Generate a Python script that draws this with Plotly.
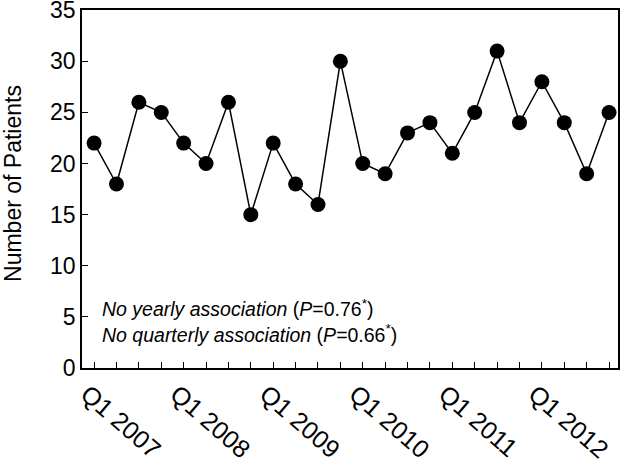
import plotly.graph_objects as go

years = [2007, 2008, 2009, 2010, 2011, 2012]
quarters = ["Q1", "Q2", "Q3", "Q4"]
periods = [f"{q} {y}" for y in years for q in quarters]
patients = [22, 18, 26, 25, 22, 20, 26, 15, 22, 18, 16, 30,
            20, 19, 23, 24, 21, 25, 31, 24, 28, 24, 19, 25]
tick_text = [p if p.startswith("Q1") else " " for p in periods]
y_ticks = [0, 5, 10, 15, 20, 25, 30, 35]
y_title = "Number of Patients"

FONT = "Liberation Sans, Arial, sans-serif"

fig = go.Figure()
fig.add_trace(go.Scatter(
    x=periods, y=patients, mode="lines+markers",
    line=dict(color="black", width=1.5),
    marker=dict(color="black", size=15),
    showlegend=False,
))

fig.update_xaxes(
    type="category", range=[-0.54, 23.4],
    tickmode="array", tickvals=periods, ticktext=tick_text,
    tickangle=41, ticks="inside", ticklen=6, tickwidth=1.2, tickcolor="black",
    showline=True, linecolor="black", linewidth=1.5, mirror=True,
    showgrid=False, zeroline=False, automargin=False,
    ticklabelshift=-7,
    tickfont=dict(family=FONT, size=25, color="black"),
)
fig.update_yaxes(
    range=[0, 35.02], tickvals=y_ticks,
    ticks="inside", ticklen=6, tickwidth=1.2, tickcolor="black",
    showline=True, linecolor="black", linewidth=1.5, mirror=True,
    showgrid=False, zeroline=False, automargin=False,
    ticklabeloverflow="allow",
    tickfont=dict(family=FONT, size=23, color="black"),
)

fig.add_annotation(
    xref="paper", yref="paper", x=-0.13, y=0.515, xanchor="center", yanchor="middle",
    textangle=-90, showarrow=False, text=y_title,
    font=dict(family=FONT, size=23, color="black"),
)

fig.add_annotation(
    xref="paper", yref="paper", x=0.033, y=0.13, xanchor="left", yanchor="middle",
    align="left", showarrow=False,
    text="<i>No yearly association</i> (<i>P</i>=0.76<sup>*</sup>)<br><i>No quarterly association</i> (<i>P</i>=0.66<sup>*</sup>)",
    font=dict(family=FONT, size=19.5, color="black"),
)

fig.update_layout(
    width=622, height=462,
    margin=dict(l=82, r=4, t=10, b=94),
    plot_bgcolor="white", paper_bgcolor="white",
)

fig.write_html("out.html", config={"displayModeBar": False},
               post_script="document.body.style.margin='0';")
